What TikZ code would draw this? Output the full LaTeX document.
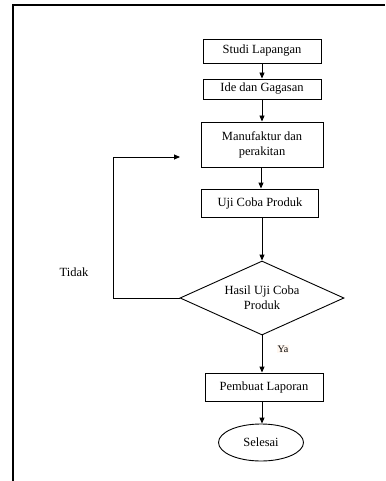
\documentclass[tikz,border=0pt]{standalone}
\usepackage{fontspec}
\setmainfont{Liberation Serif}
\usetikzlibrary{shapes.geometric,arrows.meta}
\begin{document}
\begin{tikzpicture}[x=1pt,y=-1pt,
  every node/.style={font=\fontsize{12.5}{15}\selectfont},
  box/.style={draw,line width=0.9pt,inner sep=0pt,align=center},
  arr/.style={line width=0.9pt,-{Triangle[length=6pt,width=5pt]}},
  ln/.style={line width=0.9pt}]
\useasboundingbox (0,0) rectangle (385,481);
\draw[line width=2pt] (12.5,481) -- (12.5,5.5) -- (385,5.5);
\node[box,minimum width=118pt,minimum height=24pt] (s1) at (262,51) {Studi Lapangan};
\node[box,minimum width=118pt,minimum height=20pt] (s2) at (262,89) {Ide dan Gagasan};
\node[box,minimum width=122pt,minimum height=45pt] (s3) at (262,144.5) {Manufaktur dan\\perakitan};
\node[box,minimum width=117pt,minimum height=28pt] (s4) at (260,203) {Uji Coba Produk};
\node[draw,line width=0.9pt,diamond,aspect=2.216,minimum width=164pt,minimum height=74pt,inner sep=0pt,align=center] (d) at (262,298) {Hasil Uji Coba\\Produk};
\node[box,minimum width=118pt,minimum height=28pt] (s5) at (264,387) {Pembuat Laporan};
\node[draw,line width=0.9pt,ellipse,minimum width=85pt,minimum height=37pt,inner sep=0pt] (e) at (261,442.5) {Selesai};
\node (tidak) at (74,272) {Tidak};
\node[font=\fontsize{10}{12}\selectfont,fill=orange!6,inner sep=1pt] (ya) at (283,349) {Ya};
\coordinate (c1) at (113,298);
\coordinate (c2) at (113,157);
\coordinate (c3) at (180,157);
\draw[arr] (s1.south) -- (s2.north);
\draw[arr] (s2.south) -- (s3.north);
\draw[arr] ([xshift=-1pt]s3.south) -- ([xshift=1pt]s4.north);
\draw[arr] ([xshift=2pt]s4.south) -- (d.north);
\draw[arr] (d.south) -- ([xshift=-2pt]s5.north);
\draw[arr] ([xshift=-2pt]s5.south) -- ([xshift=1pt]e.north);
\draw[ln] (d.west) -- (c1) -- (c2);
\draw[arr] (c2) -- (c3);
\end{tikzpicture}
\end{document}
